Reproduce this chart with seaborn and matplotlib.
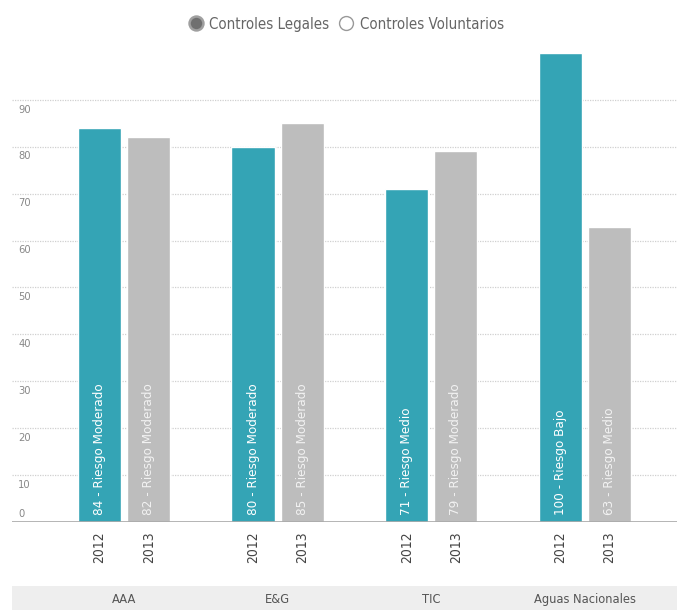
import pandas as pd
import numpy as np
import seaborn as sns
import matplotlib.pyplot as plt
from matplotlib.lines import Line2D
from matplotlib.patches import Rectangle

# ==========================================
# Data
# ==========================================
grupos = ["AAA", "E&G", "TIC", "Aguas Nacionales"]
anios = ["2012", "2013"]
valores_2012 = [84, 80, 71, 100]
valores_2013 = [82, 85, 79, 63]
riesgo_2012 = ["Riesgo Moderado", "Riesgo Moderado", "Riesgo Medio", "Riesgo Bajo"]
riesgo_2013 = ["Riesgo Moderado", "Riesgo Moderado", "Riesgo Moderado", "Riesgo Medio"]
y_ticks = [0, 10, 20, 30, 40, 50, 60, 70, 80, 90]
leyenda = ["Controles Legales", "Controles Voluntarios"]

df = pd.DataFrame({
    "grupo": grupos * 2,
    "anio": [anios[0]] * 4 + [anios[1]] * 4,
    "valor": valores_2012 + valores_2013,
    "riesgo": riesgo_2012 + riesgo_2013,
})

TEAL = "#34a4b5"
GRAY = "#bdbdbd"
TXT = "#555555"

# ==========================================
# Plot
# ==========================================
sns.set_style("white")
plt.rcParams["font.family"] = ["DejaVu Sans"]
plt.rcParams["font.stretch"] = "condensed"

fig = plt.figure(figsize=(6.77, 6.10), dpi=100)
ax = fig.add_axes([12 / 677, (610 - 522) / 610, 1 - 12 / 677, (522 - 45) / 610])

sns.barplot(data=df, x="grupo", y="valor", hue="anio", order=grupos,
            hue_order=anios, palette=[TEAL, GRAY], width=0.64, gap=0.12,
            saturation=1, legend=False, ax=ax)

ax.set_xlim(-0.73, 3.60)
ax.set_ylim(0, 101.7)
for s in ax.spines.values():
    s.set_visible(False)

# gridlines + y labels inside the plot
for t in y_ticks:
    if t == 0:
        ax.axhline(t, color="#a8a8a8", lw=1.2, zorder=1)
        ax.text(-0.69, t + 0.6, str(t), color="#888888", fontsize=8, va="bottom", ha="left")
    else:
        ax.axhline(t, color="#d0d0d0", lw=0.9, ls=(0, (1, 1)), zorder=0)
        ax.text(-0.69, t - 1.0, str(t), color="#888888", fontsize=8, va="top", ha="left")
ax.set_yticks([])
ax.set_ylabel("")
ax.set_xlabel("")

# year ticks under each bar + labels inside bars
centros = []
etiquetas = []
for cont, anio, col in zip(ax.containers, anios, ["white", "#f2f2f2"]):
    sub = df[df["anio"] == anio].reset_index(drop=True)
    for bar, (_, row) in zip(cont, sub.iterrows()):
        cx = bar.get_x() + bar.get_width() / 2
        centros.append(cx)
        etiquetas.append(anio)
        ax.text(cx, 1.5, f"{row['valor']} - {row['riesgo']}", rotation=90,
                ha="center", va="bottom", color=col, fontsize=9.6, zorder=5)

ax.set_xticks(centros)
ax.set_xticklabels(etiquetas, rotation=90, fontsize=10, color="#444444")
ax.tick_params(axis="x", length=0, pad=7)

# category band at the bottom
fig.patches.append(Rectangle((12 / 677, 0), 1, 24 / 610, transform=fig.transFigure,
                             facecolor="#eeeeee", edgecolor="none", zorder=-1))
for i, g in enumerate(grupos):
    ax.text(i, -16.6, g, ha="center", va="center", fontsize=9.2, color=TXT,
            clip_on=False, zorder=10)

# legend (radio style)
handles = [
    Line2D([], [], ls="none", marker="o", markersize=10, markerfacecolor="#707070",
           markeredgecolor="#a0a0a0", markeredgewidth=1.8),
    Line2D([], [], ls="none", marker="o", markersize=10, markerfacecolor="white",
           markeredgecolor="#999999", markeredgewidth=1.0),
]
fig.legend(handles, leyenda, loc="upper center", bbox_to_anchor=(0.51, 0.995), ncol=2,
           frameon=False, handletextpad=0.3, columnspacing=0.5, fontsize=10.8,
           labelcolor="#666666", handlelength=1.2)

plt.savefig("out.png", dpi=100, facecolor="white")
